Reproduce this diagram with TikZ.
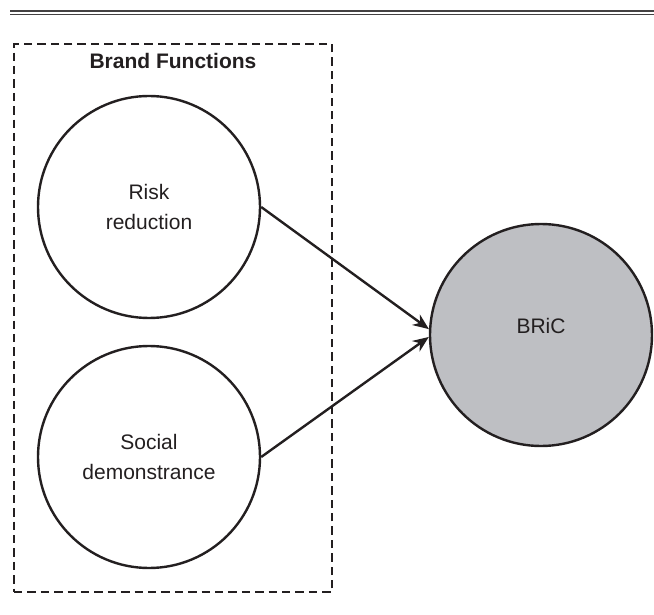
\documentclass[tikz,border=0pt]{standalone}
\usepackage{fontspec}
\setmainfont{Liberation Sans}
\usetikzlibrary{arrows.meta}
\definecolor{ink}{RGB}{35,31,32}
\definecolor{bricgrey}{RGB}{190,191,195}
\begin{document}
\begin{tikzpicture}[x=0.5pt,y=-0.5pt]
  \tikzstyle{every node}+=[font=\fontsize{10.5}{15}\selectfont,text=ink]
  \tikzstyle{construct}=[circle,draw=ink,line width=1.2pt,minimum size=111pt,inner sep=0pt,align=center]
  \tikzstyle{path}=[draw=ink,line width=1.2pt,-{Stealth[length=8pt,width=6.5pt]}]
  \useasboundingbox (0,0) rectangle (654,615);
  \draw [ink!85,line width=1pt] (10,11) -- (654,11);
  \draw [ink!85,line width=0.7pt] (10,14.5) -- (654,14.5);
  \node [draw=ink,dash pattern=on 4.2pt off 2.5pt,line width=1.3pt,minimum width=159pt,minimum height=274pt] (frame) at (173,318) {};
  \node [font=\fontsize{10.5}{15}\selectfont\bfseries] (functions) at (173,61) {Brand Functions};
  \node [construct] (risk) at (149,207) {Risk\\reduction};
  \node [construct] (social) at (149,457) {Social\\demonstrance};
  \node [construct,fill=bricgrey,label={[yshift=4.5pt]center:BRiC}] (bric) at (541,335) {};
  \draw [path] (risk.east) -- (bric.177);
  \draw [path] (social.east) -- (bric.181);
\end{tikzpicture}
\end{document}
